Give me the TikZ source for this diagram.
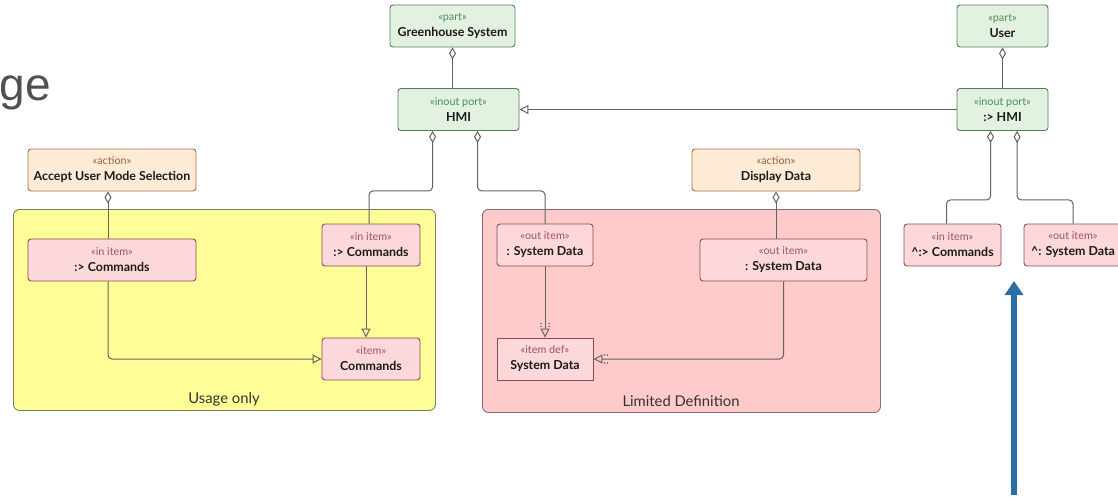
\documentclass[tikz,border=0pt]{standalone}
\usepackage{fontspec}
\setmainfont{Lato}
\newfontfamily\headfont{Liberation Sans}
\usetikzlibrary{arrows.meta,calc}

\definecolor{grnfill}{HTML}{E3F1E1}
\definecolor{grnline}{HTML}{4E7D5B}
\definecolor{grnst}{HTML}{4B8B5F}
\definecolor{actfill}{HTML}{FDEBD5}
\definecolor{actline}{HTML}{A86F4E}
\definecolor{actst}{HTML}{9A6040}
\definecolor{itmfill}{HTML}{FDD8DB}
\definecolor{itmline}{HTML}{8E4C50}
\definecolor{itmst}{HTML}{9B5560}
\definecolor{usefill}{HTML}{FFFD98}
\definecolor{useline}{HTML}{7D7D68}
\definecolor{limfill}{HTML}{FECACA}
\definecolor{limline}{HTML}{7E7070}
\definecolor{conline}{HTML}{626262}
\definecolor{txt}{HTML}{1A1A1A}
\definecolor{bluearrow}{HTML}{2C6DA6}
\definecolor{headgray}{HTML}{505050}

\newcommand{\stereo}[2]{{\color{#1}\fontsize{10.8}{16}\selectfont «#2»}}

\tikzset{
  box/.style={draw, rounded corners=3pt, line width=0.9pt, align=center,
    inner sep=0pt, text=txt, font=\fontsize{12.4}{16}\selectfont},
  grnbox/.style={box, fill=grnfill, draw=grnline},
  actbox/.style={box, fill=actfill, draw=actline},
  itmbox/.style={box, fill=itmfill, draw=itmline},
  defbox/.style={itmbox, rounded corners=0pt},
  container/.style={draw, rounded corners=6pt, line width=0.9pt, anchor=north west, inner sep=0pt},
  grouplabel/.style={text=black!80, font=\fontsize{14.8}{17}\selectfont},
  con/.style={draw=conline, line width=1pt, rounded corners=4pt},
  owned/.style={con, {Diamond[open, length=12pt, width=7pt]}-},
  spec/.style={con, -{Triangle[open, length=9pt, width=9pt]}},
  typedot/.style={fill=conline},
}

\begin{document}
\begin{tikzpicture}[x=1pt, y=-1pt]
  \useasboundingbox (0,0) rectangle (1118,503);

  % page heading (trailing letters only)
  \node[anchor=base east, inner sep=0pt, text=headgray, font=\headfont\fontsize{46}{50}\selectfont] (heading) at (51,100) {ge};

  % group frames
  \node[container, fill=usefill, draw=useline, minimum width=422, minimum height=201] (usage) at (13,209) {};
  \node[grouplabel] (usagelbl) at (224,399) {Usage only};
  \node[container, fill=limfill, draw=limline, minimum width=398, minimum height=203] (limited) at (482,209) {};
  \node[grouplabel] (limitedlbl) at (681,401) {Limited Definition};

  % parts and ports
  \node[grnbox, minimum width=125, minimum height=42] (gs) at (452.5,26) {\stereo{grnst}{part}\\\textbf{Greenhouse System}};
  \node[grnbox, minimum width=121, minimum height=42] (hmi) at (458.5,109.5) {\stereo{grnst}{inout port}\\\textbf{HMI}};
  \node[grnbox, minimum width=91, minimum height=42] (user) at (1002.5,26) {\stereo{grnst}{part}\\\textbf{User}};
  \node[grnbox, minimum width=91, minimum height=42] (phmi) at (1002.5,109.5) {\stereo{grnst}{inout port}\\\textbf{:> HMI}};

  % actions
  \node[actbox, minimum width=168, minimum height=42] (acc) at (112,170) {\stereo{actst}{action}\\\textbf{Accept User Mode Selection}};
  \node[actbox, minimum width=168, minimum height=42] (dd) at (776,170) {\stereo{actst}{action}\\\textbf{Display Data}};

  % items in the usage group
  \node[itmbox, minimum width=168, minimum height=42] (lin) at (112,260) {\stereo{itmst}{in item}\\\textbf{:> Commands}};
  \node[itmbox, minimum width=98, minimum height=42] (rin) at (371,245) {\stereo{itmst}{in item}\\\textbf{:> Commands}};
  \node[itmbox, minimum width=98, minimum height=42] (cmd) at (371,359) {\stereo{itmst}{item}\\\textbf{Commands}};

  % items in the definition group
  \node[itmbox, minimum width=96, minimum height=42] (lout) at (545,245) {\stereo{itmst}{out item}\\\textbf{: System Data}};
  \node[itmbox, minimum width=167, minimum height=42] (rout) at (783.5,260) {\stereo{itmst}{out item}\\\textbf{: System Data}};
  \node[defbox, minimum width=96, minimum height=42] (idef) at (545,359) {\stereo{itmst}{item def}\\\textbf{System Data}};

  % items owned by the user port
  \node[itmbox, minimum width=97, minimum height=42] (uin) at (952.5,245) {\stereo{itmst}{in item}\\\textbf{\^{}:> Commands}};
  \node[itmbox, minimum width=98, minimum height=42] (uout) at (1073,245) {\stereo{itmst}{out item}\\\textbf{\^{}: System Data}};

  % ownership connectors
  \draw[owned] (gs.south) -- (gs.south |- hmi.north);
  \draw[owned] (user.south) -- (user.south |- phmi.north);
  \draw[owned] ($(hmi.south west)+(35,0)$) -- ++(0,60) -| ([xshift=-2pt]rin.north);
  \draw[owned] ($(hmi.south west)+(80,0)$) -- ++(0,60) -| (lout.north);
  \draw[owned] ([xshift=-4pt]acc.south) -- ([xshift=-4pt]lin.north);
  \draw[owned] (dd.south) -- (dd.south |- rout.north);
  \draw[owned] ($(phmi.south west)+(34,0)$) -- ++(0,69) -| ([xshift=-6pt]uin.north);
  \draw[owned] ($(phmi.south west)+(60.5,0)$) -- ++(0,69) -| (uout.north);

  % specialization / typing connectors
  \draw[spec] (phmi.west) -- (hmi.east);
  \draw[spec] ([xshift=-4pt]lin.south) |- (cmd.west);
  \draw[spec] ([xshift=-5pt]rin.south) -- ([xshift=-5pt]cmd.north);
  \draw[spec] (lout.south) -- (idef.north);
  \draw[spec] (rout.south) |- (idef.east);

  % typing marks beside the arrow heads
  \fill[typedot] ($(idef.north)+(-4,-11)$) circle (0.8pt) ($(idef.north)+(4,-11)$) circle (0.8pt)
                 ($(idef.north)+(-4,-14)$) circle (0.8pt) ($(idef.north)+(4,-14)$) circle (0.8pt);
  \fill[typedot] ($(idef.east)+(11,-4)$) circle (0.8pt) ($(idef.east)+(11,4)$) circle (0.8pt)
                 ($(idef.east)+(14,-4)$) circle (0.8pt) ($(idef.east)+(14,4)$) circle (0.8pt);

  % pointer arrow
  \coordinate (ptrfoot) at (1014,495);
  \coordinate (ptrtip) at (1014,281);
  \draw[bluearrow, line width=6pt, -{Triangle[length=14pt, width=18pt]}] (ptrfoot) -- (ptrtip);
\end{tikzpicture}
\end{document}
